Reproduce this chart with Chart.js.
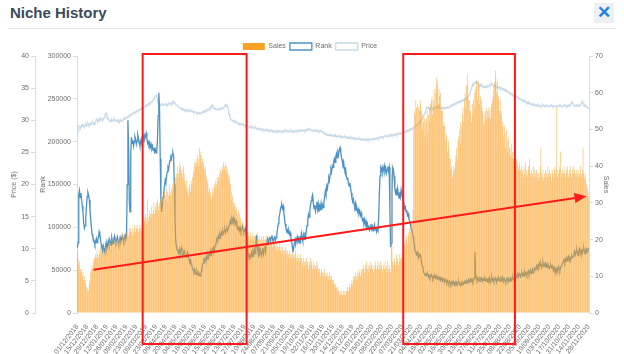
<!DOCTYPE html>
<html>
<head>
<meta charset="utf-8">
<title>Niche History</title>
<script src="https://cdn.jsdelivr.net/npm/chart.js@4.4.0/dist/chart.umd.min.js"></script>
<style>
  html, body { margin: 0; padding: 0; background: #fff; }
  body { width: 624px; height: 354px; position: relative; overflow: hidden; font-family: 'Liberation Sans', Arial, sans-serif; }
  .title { position: absolute; left: 10px; top: 4px; font-size: 15px; font-weight: bold; color: #3b4a5a; }
  .close { position: absolute; left: 594px; top: 3px; width: 20px; height: 20px; background: #eef1f4; color: #1f86d6; font-size: 17px; line-height: 20px; text-align: center; font-weight: bold; }
  .rule { position: absolute; left: 8px; right: 8px; top: 28px; height: 1px; background: #e6e9ec; }
  #wrap { position: absolute; left: 0; top: 30px; }
</style>
</head>
<body>
<div class="title">Niche History</div>
<div class="close">✕</div>
<div class="rule"></div>
<div id="wrap"><canvas id="niche-history-chart" width="624" height="324"></canvas></div>
<script>
// daily series, 01/12/2018 .. 28/11/2020
const firstDay = Date.UTC(2018, 11, 1)
const dayCount = 729
const labelEvery = 14

const salesUnits = [
  17,15,13,14,12, 11,12,10,11,9,10,9,8, 7,6,7,6,8,9, 11,12,13,12,14,15,
  15,16,15,17,16,15,17,16,18,17,16,17,18,17,16,18,17,18,
  18,19,18,20,19,18,19,20,19,18,19,20,21,19,20,19,20,21,20,19,20,21,22,20,21,20,21,22,21,
  22,21,23,22,23,22,21,23,22,24,23,22,23,24,23,22,23,24,23,22,24,23,
  24,26,25,27,24,26,31,25,26,28,27,26,29,27,28,30,27,29,28,30,31,29,28,30,
  31,30,33,31,32,30,33,32,31,34,33,30,32,35,33,32,34,33,35,34,36,35,37,
  38,37,40,38,39,41,40,38,39,37,40,38,36,35,36,34,33,
  32,34,35,33,36,35,37,38,
  39,41,40,42,41,43,40,42,45,43,44,41,42,40,41,39,40,38,37,36,
  35,33,34,32,33,31,32,34,33,35,34,36,35,37,36,
  37,38,36,39,38,40,39,41,40,39,41,40,38,39,37,38,36,35,
  33,31,32,30,29,30,28,29,28,27,28,26,27,26,
  25,24,25,23,24,23,22,23,24,22,
  22,21,20,22,21,20,21,22,20,21,19,21,20,22,21,20,21,19,20,21,20,19,21,20,19,20,21,19,20,19,18,20,19,20,19,18,19,20,
  19,18,17,19,18,17,18,19,17,18,16,18,17,16,17,18,17,16,17,15,16,17,16,15,16,17,15,16,15,16,17,15,14,16,15,14,15,16,
  15,14,13,15,14,13,14,15,13,14,12,14,13,15,14,13,12,14,13,12,13,12,14,13,
  12,11,12,10,11,12,11,10,11,12,10,11,10,11,9,10,11,10,9,10,9,8,9,
  8,7,8,7,6,7,6,5,6,5,6,5,5,6,5,6,5,6,6,7,6,7,8,7,
  8,9,8,10,9,10,11,10,9,11,10,12,11,10,12,
  11,12,13,12,11,13,12,14,12,13,11,13,12,14,13,12,13,11,12,14,13,12,13,14,12,13,12,14,13,12,11,13,12,14,12,13,11,14,12,13,12,11,
  38,41,
  14,13,15,14,13,16,14,15,13,14,16,15,14,16,15,16,
  17,19,18,20,21,19,22,21,23,22,24,23,25,28,
  50,55,54,58, 56,57,51,56,55,58,57, 55,50,54,52,53,48, 52,53,55,49,54,56,52,57,58,
  59,54,58,61,56,60,64, 62,63,57,61,59,60,55, 56,55,51,52,51,47,49, 48,44,47,45,42,42,39,
  40,37,38,40,39,41, 43,45,42,47,48,50,46,52, 51,54,56,52,58,60,56,62,65,
  62,58,58,55,55,52, 54,57,58,60,56,61,63, 62,58,63,62,57,59,58, 56,55,51,54,52,55,56,53,
  55,56,53,55,53,56,57,58,59, 61,63,66,64,60,63,59, 59,55,58,54,55,51,52,48,51,
  49,45,50,47,44,48,45, 45,43,46,42,44,42,43,42, 41,42,40,41,39,40,41,39,40,
  38,39,37,40,38,41,39,37,38,40,39,42,38,37,39,38,40,37,39,38,
  37,39,38,36,38,37,40,45,38,37,39,36,38,37,39,38,37,40,38,39,
  37,38,36,39,38,37,39,40,38,56,39,37,38,40,39,44,38,37,39,38,
  40,38,37,39,38,40,37,38,39,40,38,37,39,38,40,39,38,37,39,38,
  39,37,38,40,38,37,39,45,38,37,38,36,35,34,33,32
]

// rank in thousands
const rankThousands = [
  76,82, 138,143,135,140,132,125,118, 105,99,102,112, 125,136,141,138,132, 120,110,100,92,88,86,
  84,80,83,87,82,85,88,95,92,86, 80,76,72,78,74,71,77,82,75,79,84,
  80,86,83,79,88,84,81,87,90,85,82,86,89,84,80,85,88,83,86,90,87,84,88,91,86,89,
  150,225,190,130,118,185,205,198,202,195,
  200,206,203,197,201,208,204,199,195,200,203,197,199,205,
  208,203,206,210,204,198,200,196,199,194,197,192,195,190,193,188,191,187,189,
  200,230,257,240, 180,130,118,125,135,
  140,148,155,152,160,165,170,168,175,178,182,180,185,187,183,
  150,110,85,78,74,72,
  70,74,68,72,76,71,66,69,73,70,67,65,68,71,66,63,60,62,58,55,
  52,50,48,51,47,45,49,46,44,47,45,43,46,49,
  55,58,62,60,64,61,66,63,68,65,70,67,72,69,74,71,76,73,78,80,
  84,88,86,90,87,92,89,94,91,96,93,95,98,94,97,99,96,100,
  102,105,108,104,110,107,111,106,109,104,107,103,
  100,97,101,96,99,95,98,101,97,94,96,99,95,
  88,78,70,66,64,67,65,
  70,66,72,68,74,69,80,91,78,72,68,75,70,73,67,71,76,69,74,78,72,
  80,84,87,82,86,89,84,88,91,86,83,87,90,85,88,
  92,98,104,110,115,120,124,126,122,
  125,118,110,104,99,95,97,93,96,92,94,
  88,84,78,71,76,82,86,81,85,89,84,
  87,82,90,85,93,88,84,91,86,94,89,
  96,102,108,115,112,120,126,131,135,138,
  128,122,126,119,124,130,121,127,118,125,122,128,120,126,123,129,
  135,142,138,148,145,152,158,155,162,168,165,172,170,177,
  180,176,183,186,181,188,185,190,193,188,
  182,178,174,177,170,166,168,160,156,158,151,148,152,146,
  140,134,130,133,127,124,128,120,122,118,121,116,119,114,117,
  112,108,110,105,109,103,107,101,104,99,102,97,100,104,98,101,96,99,103,97,100,95,98,96,
  110,140,160,169,
  166,170,164,168,172,165,169,163,167,171,166,170,
  120,77,82,140,170,
  168,160,146,140,143,137,145,139,134,141,136,144,138,135,130,
  126,122,124,118,120,114,116,110,108,104,100,97,94,90,
  84,78,72,70,68,71,67,69,66,68,65,
  60,55,52,48,46,44,45,
  46,43,45,42,44,41,43,45,42,40,43,41,44,42,
  40,43,41,39,42,40,38,41,39,37,40,38,36,39,
  37,35,38,36,34,37,35,33,36,34,37,35,33,36,
  34,36,33,35,37,34,32,34,36,33,35,34,37,35,
  36,38,35,37,39,36,38,40,37,39,36,38,41,71,
  45,40,38,41,39,37,40,38,41,39,37,40,38,41,39,37,
  39,37,40,38,41,36,39,42,38,40,37,39,41,38,36,40,38,41,39,37,40,38,42,39,37,40,38,36,39,41,38,40,37,39,41,38,40,42,39,37,40,
  42,44,41,45,43,46,44,42,45,47,44,46,43,48,45,47,44,46,49,45,47,50,46,48,51,47,49,52,50,
  53,55,52,56,54,58,55,57,53,56,59,55,57,54,58,56,53,57,55,52,54,56,53,55,
  52,50,53,49,51,48,52,50,54,51,49,53,55,57,
  58,60,62,59,63,61,64,62,66,63,65,61,64,67,65,
  66,69,72,68,71,74,70,67,72,75,71,68,73,70,74,76,72,69,73,75,71,74,76
]

const priceDollars = [
  27.7,28.4,29.1,29.0,
  29.0,28.9,29.2,29.0,29.3,29.1,28.9,29.2,29.4,29.1,29.3,29.5,29.2,29.4,29.3,29.6,29.4,29.5,29.7,29.4,29.6,29.5,29.8,30.2,
  30.0,29.8,30.1,29.9,30.2,30.0,30.3,30.1,29.9,30.2,30.4,30.6,31.0,31.1,30.7,30.4,30.2,30.0,29.9,
  30.0,29.8,30.1,29.9,30.0,30.2,29.9,30.1,30.0,29.8,29.9,30.1,29.8,29.7,29.9,30.0,29.8,29.9,30.1,30.3,30.2,30.4,30.3,30.5,
  30.4,30.6,30.5,30.8,30.7,30.9,31.0,30.9,31.1,31.2,31.1,31.3,31.2,31.4,31.5,31.4,31.6,31.5,31.7,31.8,31.7,31.9,32.0,31.9,
  32.0,32.1,32.3,32.2,32.4,32.3,32.5,32.6,32.4,32.7,32.8,32.9,33.0,33.2,33.4,33.6,33.8,33.9,33.7,
  33.2,32.6,32.4,32.5,32.3,32.4,32.6,32.5,32.3,32.4,32.5,32.6,32.4,32.3,32.5,32.4,32.6,32.7,32.5,32.4,
  32.6,32.8,32.7,33.0,32.8,32.6,32.5,32.4,32.3,32.2,32.1,32.0,31.9,31.8,
  31.9,31.7,31.8,31.6,31.7,31.5,31.6,31.7,31.5,31.6,31.4,31.5,31.6,31.4,31.3,31.5,31.4,31.3,31.2,31.4,
  31.3,31.2,31.1,31.2,31.0,31.1,31.2,31.0,31.1,31.2,
  31.3,31.2,31.4,31.5,31.3,31.4,31.6,31.5,31.7,31.6,31.8,32.0,31.9,32.2,32.4,32.2,31.9,31.8,31.7,31.8,
  31.6,31.7,31.8,31.7,31.6,31.8,31.7,31.9,31.8,31.9,32.0,32.1,32.3,32.4,32.2,32.3,32.1,31.6,
  31.0,30.6,30.3,30.1,30.0,29.9,30.0,29.8,29.9,29.7,
  29.6,29.7,29.5,29.6,29.4,29.5,29.3,29.4,29.5,29.3,29.2,29.3,29.1,29.2,29.0,29.1,29.2,29.0,28.9,29.0,
  29.1,28.9,28.8,28.9,29.0,28.8,28.7,28.8,28.9,28.7,28.6,28.7,28.8,28.6,28.5,28.6,28.7,28.5,28.4,28.6,
  28.5,28.4,28.5,28.6,28.4,28.3,28.5,28.4,28.3,28.4,28.5,28.3,28.2,28.4,28.3,28.2,28.3,28.4,28.2,28.3,
  28.2,28.3,28.4,28.2,28.3,28.2,
  28.3,28.4,28.2,28.3,28.5,28.4,28.3,28.2,28.4,28.3,28.2,28.3,28.4,28.2,28.1,28.3,28.2,28.4,28.3,28.2,
  28.3,28.4,28.3,28.5,28.4,28.3,28.4,28.5,28.3,28.4,28.5,28.4,28.3,28.5,28.4,28.6,28.5,28.7,28.6,28.5,
  28.6,28.5,28.4,28.5,28.4,28.3,28.4,28.5,28.3,28.4,28.3,28.4,28.2,28.3,28.4,28.2,28.3,28.1,28.2,28.0,
  27.9,27.8,27.9,27.7,27.8,27.6,27.7,27.8,27.6,
  27.7,27.6,27.7,27.5,27.6,27.7,27.5,27.6,27.4,27.5,27.6,27.4,27.5,27.6,27.4,27.3,27.5,27.4,27.3,27.4,
  27.5,27.3,27.4,27.2,27.3,27.4,27.2,27.3,27.1,27.2,27.3,27.1,27.2,27.3,27.1,27.0,27.2,27.1,27.0,27.1,
  27.2,27.0,27.1,26.9,27.0,27.1,26.9,27.0,26.9,27.0,27.1,26.9,27.0,27.1,26.9,27.0,27.1,27.0,26.9,27.1,
  27.0,27.1,27.2,27.0,27.1,27.2,27.3,27.1,27.2,27.3,27.4,27.3,27.4,27.5,27.3,27.4,27.5,27.6,
  27.5,27.6,27.4,27.6,27.7,27.5,27.6,27.7,27.8,27.6,27.7,27.8,27.6,27.7,27.9,27.8,27.7,27.9,28.0,27.8,
  27.9,28.0,27.9,28.1,28.0,28.1,
  28.2,28.1,28.3,28.2,28.4,28.3,28.5,28.4,28.6,28.5,28.7,28.6,28.8,28.7,28.9,28.8,29.0,29.1,29.3,29.2,
  29.5,29.4,29.7,29.9,29.8,30.1,30.3,30.5,
  30.7,30.9,31.2,31.6,32.0,31.8,31.9,32.1,31.8,31.7,31.9,32.0,31.8,31.7,31.9,32.1,32.0,31.8,31.9,32.1,
  32.2,32.0,31.9,32.1,32.0,31.8,31.9,32.0,31.8,31.9,32.0,31.8,31.9,32.0,32.1,31.9,32.0,32.2,32.1,
  32.2,32.4,32.3,32.5,32.4,32.6,32.5,32.7,32.6,32.8,32.7,32.9,32.8,33.0,32.9,33.1,33.0,33.2,33.1,33.3,
  33.2,33.4,33.3,33.5,33.6,33.8,34.0,34.3,
  34.6,35.0,35.3,35.6,35.4,35.7,35.9,36.0,35.8,36.1,36.0,35.7,35.5,35.4,35.6,35.3,35.4,35.2,35.3,35.1,35.2,
  35.3,35.1,35.2,35.4,35.2,35.3,35.5,35.4,35.6,35.7,35.5,35.4,35.3,35.5,35.2,35.1,35.3,35.2,35.0,35.1,
  35.2,35.0,34.9,35.1,34.9,34.8,34.9,34.7,34.8,
  34.6,34.7,34.5,34.4,34.3,34.4,34.2,34.1,34.0,34.1,33.9,33.8,33.9,33.7,33.6,33.8,33.7,33.5,33.4,
  33.4,33.3,33.2,33.3,33.1,33.0,33.1,32.9,33.0,32.8,32.9,32.7,32.8,32.6,32.7,32.5,32.6,32.4,32.5,32.3,
  32.4,32.5,32.3,32.4,
  32.3,32.4,32.2,32.3,32.4,32.2,32.3,32.1,32.2,32.3,32.4,32.2,32.3,32.1,32.2,32.4,32.3,32.2,32.1,32.3,
  32.2,32.3,32.4,32.2,32.1,32.3,32.2,32.1,32.2,32.3,32.2,32.1,32.3,32.2,32.4,32.3,32.2,32.1,32.2,32.3,
  32.2,32.4,32.3,32.2,32.1,32.3,32.2,32.4,32.3,32.2,32.6,32.9,32.8,32.5,32.3,32.2,32.3,32.2,32.4,32.3,
  32.2,32.3,32.2,32.4,32.5,32.8,33.0,32.7,32.4,32.3,32.2,32.3,32.1,32.0,31.9,31.8
]

// red markup drawn on the screenshot: day ranges and a trend arrow (day, sales)
const highlightDays = [[93, 241], [464, 623]]
const trendFrom = [23, 11.8]
const trendTo = [725, 31.8]

const chartDefaults = {
  textColor: '#6e6e6e',
  axisColor: '#dddddd',
  fontSize: 7
}

function dayLabel(i) {
  const d = new Date(firstDay + i * 86400000)
  const dd = String(d.getUTCDate()).padStart(2, '0')
  const mm = String(d.getUTCMonth() + 1).padStart(2, '0')
  return dd + '/' + mm + '/' + d.getUTCFullYear()
}

const dayLabels = []
for (let i = 0; i < dayCount; i++) dayLabels.push(dayLabel(i))

const markupPlugin = {
  id: 'markup',
  afterDraw(chart) {
    const { ctx, chartArea, scales } = chart
    const x = scales.x
    const y = scales.ySales
    ctx.save()
    ctx.strokeStyle = '#ff1a1a'
    ctx.fillStyle = '#ff1a1a'
    ctx.lineWidth = 2
    const top = chartArea.top - 2
    const bottom = chartArea.bottom + 31
    highlightDays.forEach(([a, b]) => {
      const left = x.getPixelForValue(a)
      const right = x.getPixelForValue(b)
      ctx.strokeRect(left, top, right - left, bottom - top)
    })
    const x0 = x.getPixelForValue(trendFrom[0]), y0 = y.getPixelForValue(trendFrom[1])
    const x1 = x.getPixelForValue(trendTo[0]), y1 = y.getPixelForValue(trendTo[1])
    const angle = Math.atan2(y1 - y0, x1 - x0)
    const head = 12
    ctx.beginPath()
    ctx.moveTo(x0, y0)
    ctx.lineTo(x1 - Math.cos(angle) * head * 0.8, y1 - Math.sin(angle) * head * 0.8)
    ctx.stroke()
    ctx.beginPath()
    ctx.moveTo(x1, y1)
    ctx.lineTo(x1 - head * Math.cos(angle) + 5 * Math.sin(angle), y1 - head * Math.sin(angle) - 5 * Math.cos(angle))
    ctx.lineTo(x1 - head * Math.cos(angle) - 5 * Math.sin(angle), y1 - head * Math.sin(angle) + 5 * Math.cos(angle))
    ctx.closePath()
    ctx.fill()
    ctx.restore()
  }
}

function sideAxis(position, weight, max, step, title, width) {
  return {
    type: 'linear',
    position: position,
    weight: weight,
    min: 0,
    max: max,
    grid: {
      drawOnChartArea: false,
      color: chartDefaults.axisColor,
      tickLength: 4
    },
    border: {
      color: chartDefaults.axisColor
    },
    ticks: {
      stepSize: step,
      color: chartDefaults.textColor,
      font: { size: chartDefaults.fontSize },
      padding: 2,
      callback: value => value
    },
    title: {
      display: true,
      text: title,
      color: chartDefaults.textColor,
      font: { size: chartDefaults.fontSize }
    },
    afterFit: scale => { scale.width = width }
  }
}

Chart.defaults.font.family = "'Liberation Sans', Arial, sans-serif"

const ctx = document.getElementById('niche-history-chart')
new Chart(ctx, {
  type: 'bar',
  data: {
    labels: dayLabels,
    datasets: [
      {
        type: 'bar',
        label: 'Sales',
        data: salesUnits,
        yAxisID: 'ySales',
        backgroundColor: 'rgb(250, 160, 38)',
        borderWidth: 0,
        barPercentage: 0.9,
        categoryPercentage: 0.72,
        order: 0
      },
      {
        type: 'line',
        label: 'Rank',
        data: rankThousands.map(v => v * 1000),
        yAxisID: 'yRank',
        borderColor: '#4d92c4',
        backgroundColor: '#ffffff',
        borderWidth: 1.3,
        pointRadius: 0,
        tension: 0,
        order: 1
      },
      {
        type: 'line',
        label: 'Price',
        data: priceDollars,
        yAxisID: 'yPrice',
        borderColor: '#c8dae8',
        backgroundColor: '#ffffff',
        borderWidth: 1.3,
        pointRadius: 0,
        tension: 0,
        order: 2
      }
    ]
  },
  options: {
    responsive: false,
    animation: false,
    layout: {
      padding: { top: 9, left: 6, right: 10, bottom: 0 }
    },
    plugins: {
      legend: {
        maxHeight: 17,
        labels: {
          boxWidth: 22,
          boxHeight: 7,
          padding: 4,
          color: chartDefaults.textColor,
          font: { size: chartDefaults.fontSize }
        }
      },
      tooltip: { enabled: false }
    },
    scales: {
      x: {
        grid: { display: false },
        border: { display: false },
        ticks: {
          autoSkip: false,
          minRotation: 52,
          maxRotation: 52,
          padding: 2,
          color: chartDefaults.textColor,
          font: { size: chartDefaults.fontSize },
          callback: (value, index) => index % labelEvery === 0 ? dayLabels[index] : ''
        },
        afterFit: scale => { scale.height = 41 }
      },
      yPrice: sideAxis('left', 2, 40, 5, 'Price ($)', 29),
      yRank: sideAxis('left', 1, 300000, 50000, 'Rank', 42),
      ySales: sideAxis('right', 1, 70, 10, 'Sales', 25)
    }
  },
  plugins: [markupPlugin]
})
</script>
</body>
</html>
